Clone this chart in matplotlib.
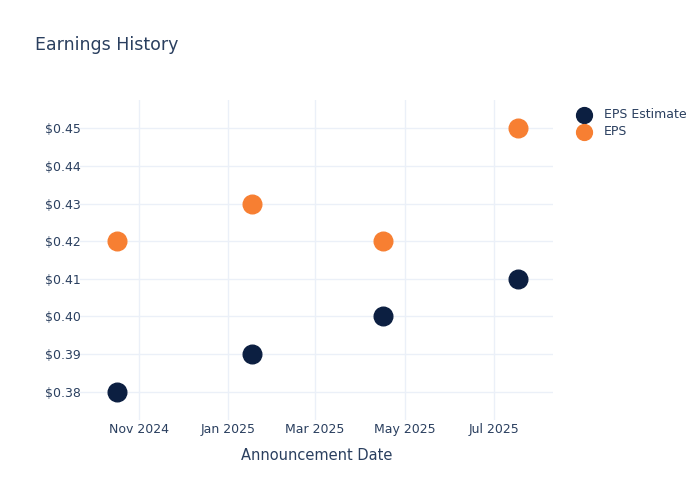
import numpy as np
import matplotlib
matplotlib.use("Agg")
import matplotlib.pyplot as plt
import matplotlib.dates as mdates
import matplotlib.ticker as mticker

# 数据
dates = np.array(["2024-10-17", "2025-01-17", "2025-04-16", "2025-07-17"], dtype="datetime64[D]")
eps_estimate = [0.38, 0.39, 0.40, 0.41]
eps_actual = [0.42, 0.43, 0.42, 0.45]

text_color = "#2a3f5f"
grid_color = "#ebf0f8"

fig = plt.figure(figsize=(7, 5), dpi=100)
ax = fig.add_axes([0.114, 0.16, 0.676, 0.64])

ax.scatter(dates, eps_estimate, s=180, color="#0c1f41", label="EPS Estimate", zorder=3)
ax.scatter(dates, eps_actual, s=180, color="#f77f32", label="EPS", zorder=3)

ax.set_xlim(np.datetime64("2024-09-22"), np.datetime64("2025-08-10"))
ax.set_ylim(0.3725, 0.4575)

ax.xaxis.set_major_locator(mdates.MonthLocator(bymonth=[1, 3, 5, 7, 11]))
ax.xaxis.set_major_formatter(mdates.DateFormatter("%b %Y"))
ax.yaxis.set_major_locator(mticker.MultipleLocator(0.01))
ax.yaxis.set_major_formatter(mticker.FuncFormatter(lambda v, p: "$%.2f" % v))

ax.grid(True, color=grid_color, linewidth=1)
ax.set_axisbelow(True)
for s in ax.spines.values():
    s.set_visible(False)
ax.tick_params(length=0, labelsize=9, colors=text_color)
ax.tick_params(axis="x", pad=2)
ax.tick_params(axis="y", pad=-1)

ax.set_xlabel("Announcement Date", fontsize=10.5, color=text_color, labelpad=9)
fig.text(0.05, 0.9, "Earnings History", fontsize=12.5, color=text_color)

leg = ax.legend(loc="upper left", bbox_to_anchor=(1.015, 1.01), frameon=False,
                fontsize=9, handletextpad=0.6, labelspacing=0.35, markerscale=0.85)
for t in leg.get_texts():
    t.set_color(text_color)

fig.savefig("out.png", dpi=100)
